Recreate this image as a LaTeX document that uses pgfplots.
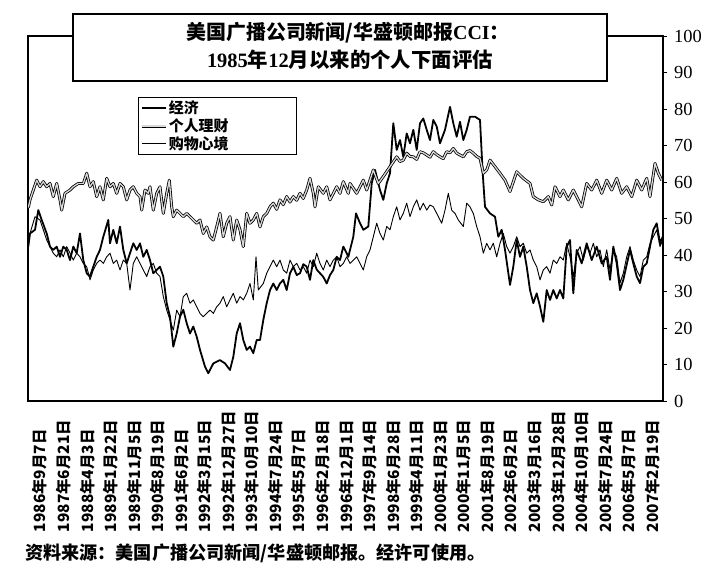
\documentclass[border=0pt]{standalone}
\usepackage{pgfplots}
\pgfplotsset{compat=1.18}
\usepackage{fontspec}
\setmainfont{Liberation Serif}
\newfontfamily\cjk{Noto Sans CJK SC}
\newfontfamily\lser{Liberation Serif}
\newcommand\xl[1]{\makebox[116bp][l]{#1}}
\newcommand\legw[1]{\makebox[124bp][l]{#1}}

\pgfplotstableread{
x y
28.3 42.3
30 45.9
35 46.9
38.3 52.3
41.7 49.6
46.7 45.9
50 42.3
53.3 41.4
56.7 42.3
60 39.5
63.3 42.3
66.7 41.4
70 38.6
73.3 42.3
76.7 40.5
80 45.9
83.3 38.6
86.7 35.0
90 34.1
93.3 36.8
96.7 39.5
100 41.4
103.3 45.0
108.3 49.6
110 43.2
113.3 46.9
116.7 43.2
120 47.8
123.3 41.4
126.7 37.7
130 40.5
133.3 43.2
136.7 41.4
140 43.2
143.3 39.5
146.7 41.4
150 38.6
153.3 35.0
156.7 35.9
160 36.8
163.3 34.1
166.7 26.8
170 23.1
173.3 14.9
176.7 18.5
180 23.1
183.3 25.0
186.7 21.3
190 18.5
193.3 20.4
196.7 17.6
200 14.0
205 9.4
208.3 7.6
213.3 10.3
220 11.2
225 10.3
230 8.5
233.3 12.1
236.7 18.5
240 21.3
243.3 16.7
246.7 14.0
250 14.9
253.3 13.1
256.7 16.7
260 16.7
263.3 22.2
266.7 26.8
270 30.4
273.3 32.2
276.7 30.4
280 32.2
283.3 33.2
286.7 30.4
290 35.0
293.3 36.8
296.7 34.5
300 35.0
303.3 37.5
306.7 36.8
310 33.2
313.3 38.6
316.7 36.0
320 35.0
323.3 34.0
326.7 32.2
330 34.5
333.3 35.9
336.7 39.5
340 38.6
343.3 42.3
346.7 40.5
348.3 39.5
353.3 45.0
356 51.4
360 48.7
363.3 46.9
368.3 47.8
371.7 59.6
375 63.3
380 57.8
383.3 55.1
386.7 59.6
390 62.4
393.3 76.1
396.7 68.8
400 71.5
403.3 66.9
406.7 73.3
410 70.6
413.3 74.3
416.7 68.8
420 76.1
423.3 77.4
426.7 74.3
430 71.5
433.3 77.0
436.7 75.2
440 70.6
445 74.3
450 80.6
453.3 76.1
456.7 72.4
460 76.5
463.3 71.5
466.7 74.3
470 77.9
475 77.9
480 77.0
482.7 62.4
485 53.2
490 51.4
495 50.5
498.3 45.0
501.7 46.9
505 41.4
510 31.8
513.3 36.8
516.7 44.1
520 39.5
523.3 42.3
526.7 36.8
530 30.4
533.3 26.8
536.7 29.5
540 25.9
543.3 21.7
546.7 30.4
550 27.7
553.3 30.4
556.7 28.1
560 30.4
563.3 28.1
566.7 42.3
570 44.1
573.3 29.5
576.7 41.4
581.7 37.7
586.7 43.2
591.7 38.6
596.7 42.3
601.7 37.7
606.7 39.5
610 33.2
613.3 42.3
616.7 37.7
620 30.4
623.3 33.2
630 41.4
633.3 37.7
636.7 34.1
640 32.3
643.3 36.8
646.7 37.7
650 42.3
653.3 46.9
656.7 48.7
660 43.2
662.7 45.0
}\economy

\pgfplotstableread{
x y
28.3 53.0
30 55.1
33.3 57.8
36.7 60.5
40 58.7
43.3 60.1
46.7 58.7
50 59.6
53.3 56.0
56.7 59.6
60 55.1
61.7 52.3
65 56.9
70 57.8
73.3 58.7
78.3 59.6
83.3 59.6
86.7 62.4
90 58.7
93.3 60.1
96.7 56.0
100 58.7
103.3 55.1
106.7 61.0
110 58.7
113.3 59.6
116.7 56.9
120 59.6
123.3 58.7
126.7 55.1
130 57.8
133.3 58.7
136.7 56.9
140 56.0
141.7 52.3
145 57.8
148.3 56.9
150 58.7
153.3 52.3
156.7 56.9
160 58.7
163.3 51.4
166.7 56.9
169.3 60.5
171.7 53.2
173.3 50.5
176.7 52.3
180 51.4
183.3 50.5
186.7 51.4
190 50.5
193.3 49.6
196.7 48.7
200 49.6
203.3 45.9
206.7 47.7
210 45.0
213.3 44.1
216.7 47.7
220 51.4
223.3 45.0
226.7 48.7
230 50.5
233.3 44.1
236.7 49.6
240 46.9
243.3 42.3
246.7 51.4
250 48.7
253.3 49.6
256.7 51.4
260 47.7
263.3 50.5
266.7 51.4
270 53.2
273.3 54.2
276.7 52.5
280 55.1
283.3 53.8
286.7 56.0
290 54.5
293.3 56.0
296.7 55.0
300 56.9
303.3 55.5
306.7 57.8
310 61.0
313.3 56.9
315 53.2
318.3 58.7
323.3 56.9
326.7 58.7
330 55.1
336.7 58.7
340 56.9
343.3 60.1
348.3 56.9
350 59.6
356.7 56.9
363.3 60.5
366.7 57.8
373.3 63.3
378.3 59.6
383.3 61.5
390 64.2
396.7 66.9
400 65.6
403.3 66.0
406.7 67.9
410 67.0
413.3 66.9
416.7 66.2
420 68.3
423.3 68.0
426.7 67.4
430 66.8
433.3 68.3
436.7 67.5
440 66.9
443.3 66.4
446.7 68.3
450 68.0
453.3 69.2
456.7 67.9
460 67.4
463.3 66.9
466.7 68.3
470 68.6
473.3 67.9
476.7 67.0
480 66.5
483.3 62.4
486.7 63.3
490 66.0
495 64.2
500 62.4
505 60.5
510 57.4
516.7 62.8
523.3 61.0
530 59.6
533.3 56.0
538.3 55.1
543.3 54.6
548.3 56.0
551.7 53.7
555 58.7
560 56.0
563.3 57.8
568.3 55.1
573.3 57.8
578.3 55.1
581.7 53.2
586.7 59.6
591.7 57.8
596.7 60.5
601.7 56.9
606.7 60.5
611.7 57.8
616.7 61.0
621.7 56.9
626.7 58.7
631.7 56.0
636.7 60.5
641.7 57.8
646.7 61.0
650 56.0
655 65.1
658.3 62.4
661.7 60.5
}\personal

\pgfplotstableread{
x y
28.3 43.2
30 45.9
35 50.5
40 49.6
43.3 46.9
46.7 44.1
50 42.3
53.3 40.5
56.7 39.5
60 41.4
63.3 39.5
66.7 42.3
70 40.5
73.3 38.6
76.7 40.5
80 39.5
83.3 37.7
86.7 36.8
90 33.2
93.3 35.9
96.7 37.7
100 38.6
103.3 37.7
106.7 39.5
110 40.5
113.3 37.7
116.7 38.6
120 35.9
123.3 38.6
126.7 37.7
130 30.4
133.3 37.7
136.7 39.5
140 37.7
143.3 35.9
146.7 34.1
150 36.8
153.3 37.7
156.7 35.0
160 34.1
163.3 28.6
166.7 24.9
170 22.2
173.3 19.4
176.7 24.9
180 23.1
183.3 28.6
186.7 29.5
190 26.8
193.3 27.7
196.7 25.8
200 24.0
203.3 23.1
206.7 24.0
210 24.9
213.3 24.0
216.7 25.8
220 26.8
223.3 28.6
226.7 25.8
230 27.7
233.3 29.5
236.7 26.8
240 28.6
243.3 27.7
246.7 29.5
250 32.2
253.3 27.7
256 39.5
258.3 30.4
263.3 32.2
266.7 35.0
270 36.8
273.3 38.6
276.7 36.8
280 38.6
283.3 35.9
286.7 35.0
290 38.6
293.3 36.8
296.7 37.7
300 35.9
303.3 36.8
306.7 35.0
310 38.6
313.3 36.8
316.7 40.5
320 37.7
323.3 35.9
326.7 38.6
330 36.8
333.3 38.6
336.7 39.5
340 36.8
343.3 37.7
346.7 39.5
350 37.7
356.7 39.5
363.3 35.9
366.7 39.5
370 41.4
373.3 45.0
376.7 48.7
380 45.9
383.3 44.1
386.7 47.8
390 46.9
393.3 50.5
396.7 53.2
400 49.6
403.3 51.4
406.7 54.2
410 50.5
413.3 53.2
416.7 55.1
420 52.3
423.3 54.2
426.7 52.3
430 53.7
433.3 53.2
436.7 51.4
441.7 48.7
445 52.3
448.3 56.9
451.7 52.3
455 51.4
458.3 49.6
463.3 47.8
466.7 54.2
470 53.2
473.3 51.4
476.7 47.8
480 45.0
483.3 40.5
486.7 43.2
490 41.4
493.3 43.2
496.7 39.5
500 43.2
503.3 45.9
506.7 42.3
510 40.5
513.3 42.3
516.7 45.0
520 42.3
523.3 43.2
526.7 40.5
530 41.4
533.3 38.6
536.7 36.8
540 33.2
543.3 35.9
546.7 36.8
550 35.0
553.3 38.6
556.7 37.7
560 39.5
563.3 38.6
566.7 43.2
570 39.5
573.3 34.1
576.7 40.5
580 42.3
583.3 38.6
586.7 42.3
590 40.5
593.3 43.2
596.7 39.5
600 41.4
603.3 36.8
606.7 41.4
610 35.9
613.3 41.4
616.7 39.5
620 32.3
623.3 35.0
626.7 39.5
630 42.3
633.3 38.6
636.7 35.9
640 34.1
643.3 38.6
646.7 39.5
650 43.2
653.3 45.0
656.7 46.9
660 42.3
662.7 44.1
}\buying

\begin{document}
\begin{tikzpicture}
\begin{axis}[
  name=ax, anchor=south west, at={(0,0)},
  scale only axis, width=635bp, height=365bp,
  xmin=28, xmax=663, ymin=0, ymax=100,
  axis line style={line width=1.6bp},
  ytick={0,10,...,100}, ytick pos=right, yticklabel pos=right,
  tick align=outside, major tick length=4bp,
  ytick style={line width=0.8bp, black},
  /pgf/number format/assume math mode=true,
  yticklabel style={font=\lser\fontsize{18.5}{18.5}\selectfont, anchor=west, inner sep=0pt, xshift=7bp},
  xtick={40,63.55,87.1,110.65,134.2,157.75,181.3,204.85,228.4,251.95,275.5,299.05,322.6,346.15,369.7,393.25,416.8,440.35,463.9,487.45,511,534.55,558.1,581.65,605.2,628.75,652.3},
  xticklabels={\xl{1986年9月7日},\xl{1987年6月21日},\xl{1988年4月3日},\xl{1989年1月22日},\xl{1989年11月5日},\xl{1990年8月19日},\xl{1991年6月2日},\xl{1992年3月15日},\xl{1992年12月27日},\xl{1993年10月10日},\xl{1994年7月24日},\xl{1995年5月7日},\xl{1996年2月18日},\xl{1996年12月1日},\xl{1997年9月14日},\xl{1998年6月28日},\xl{1999年4月11日},\xl{2000年1月23日},\xl{2000年11月5日},\xl{2001年8月19日},\xl{2002年6月2日},\xl{2003年3月16日},\xl{2003年12月28日},\xl{2004年10月10日},\xl{2005年7月24日},\xl{2006年5月7日},\xl{2007年2月19日}},
  xtick style={draw=none},
  xticklabel style={rotate=90, anchor=east, inner sep=0pt, font=\cjk\bfseries\fontsize{15.5}{15.5}\selectfont},
  xticklabel shift=11bp,
  legend image code/.code={\draw[#1] (0bp,0bp) -- (24bp,0bp);},
  legend style={at={(0.173,0.833)}, anchor=north west, draw=black, line width=1.2bp,
    font=\cjk\bfseries\fontsize{15}{15}\selectfont, inner sep=2.5bp, row sep=1.5bp,
    nodes={inner sep=1bp}},
  legend cell align=left,
]
\addplot[black, line width=1.8bp, line join=round] table[x=x,y=y]{\economy};
\addlegendentry{\legw{经济}}
\addplot[draw=black, line width=0.8bp, double=gray!30, double distance=1.3bp, line join=round] table[x=x,y=y]{\personal};
\addlegendentry{个人理财}
\addplot[black, line width=0.9bp, line join=round] table[x=x,y=y]{\buying};
\addlegendentry{购物心境}
\end{axis}
\draw[line width=1.6bp, fill=white] (45bp,320bp) rectangle (579bp,387bp);
\node[font=\cjk\bfseries\fontsize{20}{20}\selectfont, inner sep=0pt] at (320bp,368bp) {美国广播公司新闻/华盛顿邮报{\lser\bfseries CCI}：};
\node[font=\cjk\bfseries\fontsize{20.5}{20.5}\selectfont, inner sep=0pt] at (322bp,341bp) {{\lser\bfseries 1985}年{\lser\bfseries 12}月以来的个人下面评估};
\node[anchor=west, font=\cjk\bfseries\fontsize{18.2}{18.2}\selectfont, inner sep=0pt] at (-3bp,-152bp) {资料来源：美国广播公司新闻/华盛顿邮报。经许可使用。};
\pgfresetboundingbox
\path[use as bounding box] (-28bp,-173bp) rectangle (698bp,401bp);
\end{tikzpicture}
\end{document}
